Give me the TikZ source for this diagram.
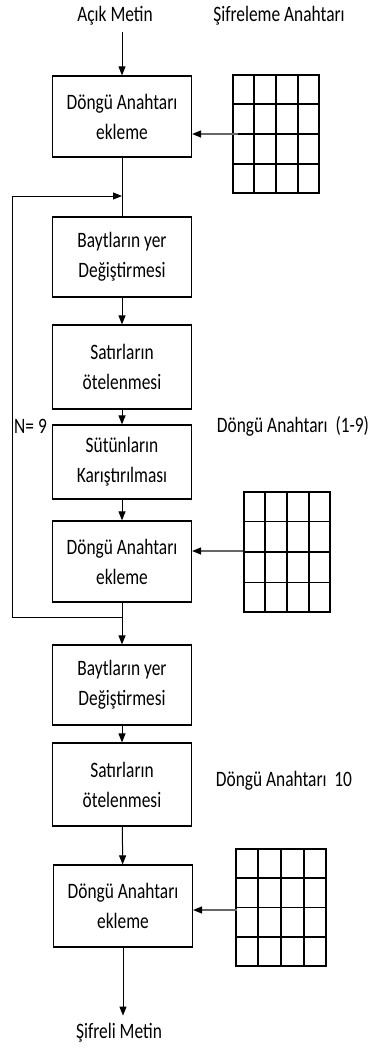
\documentclass[tikz,border=0pt]{standalone}
\usepackage{fontspec}
\setmainfont{Carlito}
\usetikzlibrary{arrows.meta,calc}
\newcommand{\sq}[1]{\scalebox{0.79}[1]{#1}}
\tikzset{
  txt/.style={font=\fontsize{22}{30}\selectfont, inner sep=0pt, align=center},
  stepbox/.style={draw, line width=1.2pt, minimum width=139pt, inner sep=0pt,
    font=\fontsize{22}{30}\selectfont, align=center},
  keygrid/.style={draw, line width=1.5pt, inner sep=0pt},
  flow/.style={line width=1pt, -{Triangle[length=9pt,width=7pt]}},
  side/.style={line width=1.2pt, draw=black!60, -{Triangle[length=9pt,width=7pt,fill=black,color=black]}},
  plain/.style={line width=1pt},
}
\newcommand{\gridlines}[1]{%
  \foreach \i in {1,2,3}{%
    \draw[line width=1.5pt] ($(#1.north west)!\i/4!(#1.north east)$) -- ($(#1.south west)!\i/4!(#1.south east)$);
    \draw[line width=1.5pt] ($(#1.north west)!\i/4!(#1.south west)$) -- ($(#1.north east)!\i/4!(#1.south east)$);
  }}
\begin{document}
\begin{tikzpicture}[x=1pt,y=-1pt]
\useasboundingbox (0,0) rectangle (373,1049);
% labels
\node[txt] (in) at (115,16) {\sq{Açık Metin}};
\node[txt] (keylbl) at (279,16) {\sq{Şifreleme Anahtarı}};
\node[txt, anchor=west] (nlbl) at (14,426) {\sq{N= 9}};
\node[txt] (r19) at (293,426) {\sq{Döngü Anahtarı\ \ (1-9)}};
\node[txt] (r10) at (284,781) {\sq{Döngü Anahtarı\ \ 10}};
\node[txt] (out) at (119,1033) {\sq{Şifreli Metin}};
% boxes
\node[stepbox, minimum height=81pt] (b1) at (122,116.5) {\sq{Döngü Anahtarı}\\\sq{ekleme}};
\node[stepbox, minimum height=80pt] (b2) at (122,257) {\sq{Baytların yer}\\\sq{Değiştirmesi}};
\node[stepbox, minimum height=84pt] (b3) at (122,367) {\sq{Satırların}\\\sq{ötelenmesi}};
\node[stepbox, minimum height=74pt] (b4) at (122,462) {\sq{Sütünların}\\\sq{Karıştırılması}};
\node[stepbox, minimum height=81pt] (b5) at (122,561.5) {\sq{Döngü Anahtarı}\\\sq{ekleme}};
\node[stepbox, minimum height=80pt] (b6) at (122,685) {\sq{Baytların yer}\\\sq{Değiştirmesi}};
\node[stepbox, minimum height=83pt] (b7) at (122,784.5) {\sq{Satırların}\\\sq{ötelenmesi}};
\node[stepbox, minimum height=82pt] (b8) at (123,906) {\sq{Döngü Anahtarı}\\\sq{ekleme}};
% grids
\node[keygrid, minimum width=86pt, minimum height=118pt] (g1) at (276,134) {};
\node[keygrid, minimum width=86pt, minimum height=120pt] (g2) at (287,552) {};
\node[keygrid, minimum width=90pt, minimum height=117pt] (g3) at (281,907.5) {};
\gridlines{g1}\gridlines{g2}\gridlines{g3}
% coordinates
\coordinate (j1) at (b1.south |- 0,196);
\coordinate (j2) at (b5.south |- 0,617);
\coordinate (l1) at (12,196);
\coordinate (l2) at (12,617);
\coordinate (s1) at (238,134);
\coordinate (s2) at (243,551);
\coordinate (s3) at (237,910);
% connectors
\draw[flow] ($(b1.north)+(0,-43)$) -- (b1.north);
\draw[plain] (b1.south) -- (b2.north);
\draw[plain] (j2) -- (l2) -- (l1);
\draw[flow] (l1) -- (j1);
\draw[flow] (b2) -- (b3);
\draw[flow] (b3) -- (b4);
\draw[flow] (b4) -- (b5);
\draw[flow] (b5.south) -- (b6.north);
\draw[flow] (b6) -- (b7);
\draw[flow] (b7) -- (b8);
\draw[flow] (b8.south) -- ($(b8.south)+(0,68)$);
\draw[side] (s1) -- (s1 -| b1.east);
\draw[side] (s2) -- (s2 -| b5.east);
\draw[side] (s3) -- (s3 -| b8.east);
\end{tikzpicture}
\end{document}
